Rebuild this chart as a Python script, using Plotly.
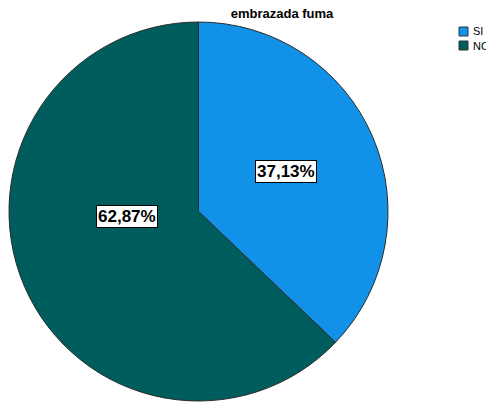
import math
import plotly.graph_objects as go

# Survey answers: pregnant woman smokes
categories = ["SI", "NO"]
percentages = [37.13, 62.87]
slice_colors = ["#1192e8", "#005d5d"]

W, H = 486, 405
# pie placement in pixels
cx, cy, R = 198.5, 211.5, 189.5
# label placement tweaks (radius fraction, angle shift in degrees)
label_rfrac = [0.51, 0.38]
label_shift = [-1.5, 19.0]
FONT = "Arial, Liberation Sans, sans-serif"

fig = go.Figure(go.Pie(
    labels=categories,
    values=percentages,
    sort=False,
    direction="clockwise",
    rotation=0,
    marker=dict(colors=slice_colors, line=dict(color="#2b2b2b", width=1)),
    textinfo="none",
    hoverinfo="label+percent",
    showlegend=False,
    domain=dict(x=[(cx - R) / W, (cx + R) / W], y=[1 - (cy + R) / H, 1 - (cy - R) / H]),
))

# boxed percentage labels placed from each slice's mid angle
total = sum(percentages)
start = 0.0
annotations = []
for i, v in enumerate(percentages):
    mid = (start + v / 2) / total * 360 + label_shift[i]
    start += v
    a = math.radians(mid)
    px = cx + label_rfrac[i] * R * math.sin(a)
    py = cy - label_rfrac[i] * R * math.cos(a)
    annotations.append(dict(
        x=px / W, y=1 - py / H, xref="paper", yref="paper",
        xanchor="center", yanchor="middle",
        text=f"<b>{v:.2f}%</b>".replace(".", ","),
        showarrow=False,
        font=dict(family=FONT, size=17, color="black"),
        bgcolor="white", bordercolor="black", borderwidth=1, borderpad=1,
    ))

# compact legend at the top right
shapes = []
leg_x, leg_y, box, step = 459, 27, 9, 14
for i, (name, col) in enumerate(zip(categories, slice_colors)):
    y0 = leg_y + i * step
    shapes.append(dict(
        type="rect", xref="paper", yref="paper",
        x0=leg_x / W, x1=(leg_x + box) / W,
        y0=1 - (y0 + box) / H, y1=1 - y0 / H,
        fillcolor=col, line=dict(color="#333333", width=1),
    ))
    annotations.append(dict(
        x=(leg_x + box + 3) / W, y=1 - (y0 + box / 2) / H,
        xref="paper", yref="paper", xanchor="left", yanchor="middle",
        text=name, showarrow=False,
        font=dict(family=FONT, size=11, color="black"),
    ))

fig.update_layout(
    width=W, height=H,
    margin=dict(l=0, r=0, t=0, b=0, autoexpand=False),
    paper_bgcolor="white", plot_bgcolor="white",
    title=dict(
        text="<b>embrazada fuma</b>",
        x=282 / W, y=1 - 13 / H, xanchor="center", yanchor="middle",
        font=dict(family=FONT, size=13, color="black"),
    ),
    annotations=annotations,
    shapes=shapes,
    showlegend=False,
)

fig.write_html("out.html")
